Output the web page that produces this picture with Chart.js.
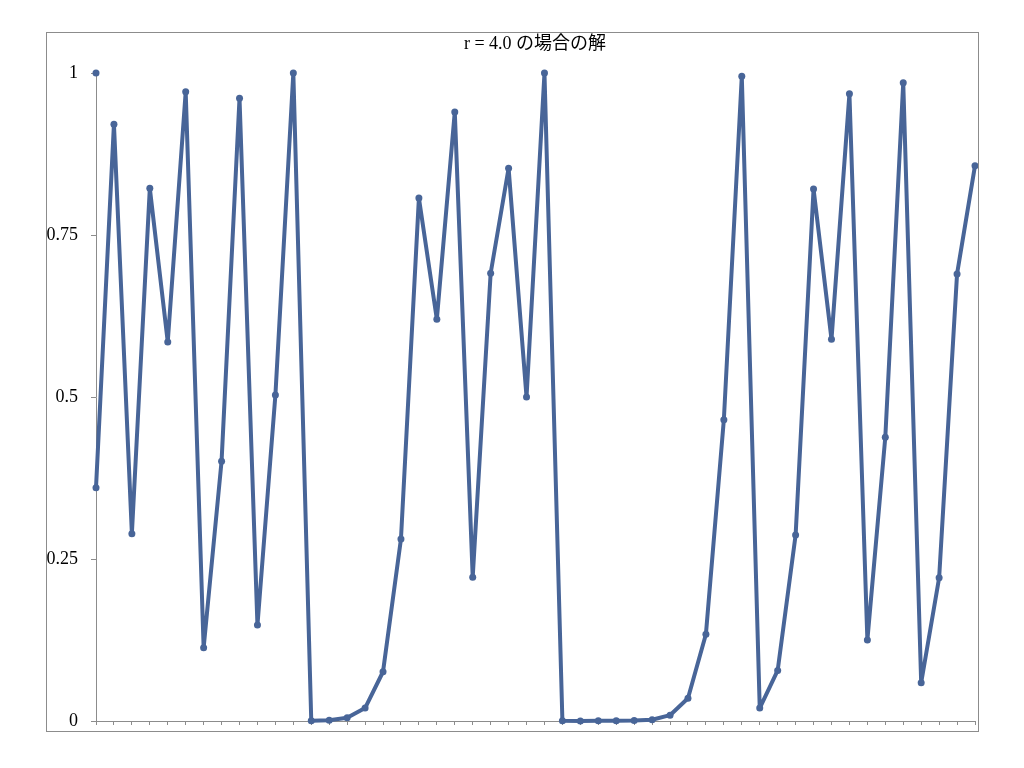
<!DOCTYPE html>
<html>
<head>
<meta charset="utf-8">
<script src="https://cdn.jsdelivr.net/npm/chart.js@4/dist/chart.umd.min.js"></script>
<style>
  html, body { margin: 0; padding: 0; background: #fff; }
  #wrap { width: 1024px; height: 768px; }
</style>
</head>
<body>
<div id="wrap"><canvas id="myChart" width="1024" height="768"></canvas></div>
<script>
var chartTitle = 'r = 4.0 の場合の解';
// step numbers (not shown as text on the axis)
var steps = [];
for (var i = 0; i < 50; i++) steps.push(String(i));
// x_n
var solution = [0.36, 0.921, 0.289, 0.822, 0.585, 0.971, 0.113, 0.401, 0.961, 0.148,
                0.503, 1.0, 0.0003, 0.001, 0.005, 0.02, 0.076, 0.281, 0.807, 0.62,
                0.94, 0.222, 0.691, 0.853, 0.5, 1.0, 0.0003, 0.0001, 0.0002, 0.0003,
                0.0006, 0.002, 0.009, 0.035, 0.134, 0.465, 0.995, 0.02, 0.078, 0.287,
                0.821, 0.589, 0.968, 0.125, 0.438, 0.985, 0.059, 0.221, 0.69, 0.857];
var startMark = [1];
var yTicks = [0, 0.25, 0.5, 0.75, 1];

var lineColor = 'rgb(72,101,152)';
var axisColor = 'rgb(140,140,140)';
var serif = '"Liberation Serif", "Noto Sans CJK JP", serif';

// frame + title drawn by hand, like the spreadsheet export
var framePlugin = {
  id: 'frame',
  afterDraw: function(chart) {
    var c = chart.ctx;
    c.save();
    c.strokeStyle = axisColor;
    c.lineWidth = 1;
    c.strokeRect(46.5, 32.5, 932, 699);
    c.fillStyle = '#000';
    c.font = '18px ' + serif;
    c.textAlign = 'center';
    c.textBaseline = 'middle';
    c.fillText(chartTitle, 535, 44);
    c.restore();
  }
};

var ctx = document.getElementById('myChart').getContext('2d');
var chart = new Chart(ctx, {
  type: 'line',
  data: {
    labels: steps,
    datasets: [
      {
        label: 'x',
        data: solution,
        borderColor: lineColor,
        backgroundColor: lineColor,
        borderWidth: 4,
        borderJoinStyle: 'round',
        borderCapStyle: 'round',
        pointRadius: 3.5,
        pointHoverRadius: 3.5,
        pointBorderWidth: 0,
        tension: 0,
        clip: false
      },
      {
        label: 'start',
        data: startMark,
        showLine: false,
        borderColor: lineColor,
        backgroundColor: lineColor,
        pointRadius: 3.5,
        pointBorderWidth: 0,
        clip: false
      }
    ]
  },
  options: {
    responsive: false,
    animation: false,
    layout: { padding: { left: 0, right: 49, top: 73, bottom: 0 } },
    plugins: {
      legend: { display: false },
      title: { display: false },
      tooltip: { enabled: false }
    },
    scales: {
      x: {
        offset: false,
        border: { color: axisColor, width: 1 },
        grid: { drawOnChartArea: false, drawTicks: true, tickLength: 4, color: axisColor },
        ticks: { autoSkip: false, maxRotation: 0, callback: function() { return ''; } },
        afterFit: function(scale) { scale.height = 47; }
      },
      y: {
        min: 0,
        max: 1,
        border: { color: axisColor, width: 1 },
        grid: { drawOnChartArea: false, drawTicks: true, tickLength: 5, color: axisColor },
        afterBuildTicks: function(scale) {
          scale.ticks = yTicks.map(function(v) { return { value: v }; });
        },
        ticks: {
          padding: 13,
          color: '#000',
          font: { family: serif, size: 18 },
          callback: function(v) { return String(v); }
        },
        afterFit: function(scale) { scale.width = 96; }
      }
    }
  },
  plugins: [framePlugin]
});
</script>
</body>
</html>
